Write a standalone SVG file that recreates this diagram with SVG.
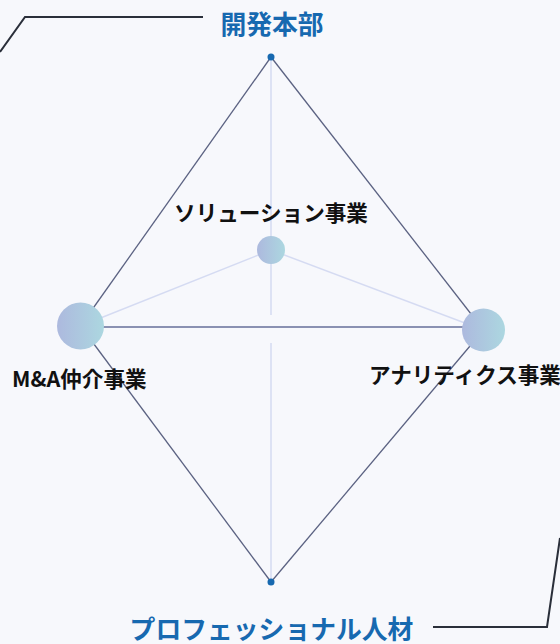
<svg xmlns="http://www.w3.org/2000/svg" width="560" height="644" viewBox="0 0 560 644">
<defs>
<linearGradient id="g" x1="0" y1="0" x2="1" y2="0">
<stop offset="0" stop-color="#adb9de"/>
<stop offset="1" stop-color="#acd7e0"/>
</linearGradient>
<style>
.t{font-family:"Noto Sans CJK JP","Noto Sans",sans-serif;font-weight:700}
.blue{fill:#1769b0;font-size:25.8px}
.blk{fill:#111;font-size:21.6px}
.edge{stroke:#5b6282;stroke-width:1.3;fill:none}
.light{stroke:#d5dbf2;stroke-width:1.5;fill:none}
.mid{stroke:#8a91b2;stroke-width:2;fill:none}
.call{stroke:#2a2f3a;stroke-width:2;fill:none}
</style>
</defs>
<rect width="560" height="644" fill="#f7f8fc"/>
<g id="connectors">
<line class="light" x1="271" y1="57" x2="271" y2="315"/>
<line class="light" x1="271" y1="343" x2="271" y2="582"/>
<line class="light" x1="271" y1="250" x2="80.5" y2="326"/>
<line class="light" x1="271" y1="250" x2="483.5" y2="330"/>
<line class="mid" x1="80.5" y1="327" x2="483.5" y2="327"/>
<line class="edge" x1="271" y1="57" x2="80.5" y2="326"/>
<line class="edge" x1="271" y1="57" x2="483.5" y2="330"/>
<line class="edge" x1="80.5" y1="326" x2="271" y2="582"/>
<line class="edge" x1="483.5" y1="330" x2="271" y2="582"/>
<polyline class="call" points="0,52 25,17 203,17"/>
<polyline class="call" points="433,627 547,627 560,538"/>
</g>
<g id="top">
<circle cx="271" cy="57" r="3.5" fill="#1769b0"/>
<text class="t blue" x="272" y="34" text-anchor="middle">開発本部</text>
</g>
<g id="bottom">
<circle cx="271" cy="582" r="3.5" fill="#1769b0"/>
<text class="t blue" x="271.5" y="639" text-anchor="middle">プロフェッショナル人材</text>
</g>
<g id="solution">
<circle cx="271" cy="250" r="14" fill="url(#g)"/>
<text class="t blk" x="271" y="221" text-anchor="middle">ソリューション事業</text>
</g>
<g id="ma">
<circle cx="80.5" cy="326" r="23.5" fill="url(#g)"/>
<text class="t blk" x="12" y="387">M&amp;A仲介事業</text>
</g>
<g id="analytics">
<circle cx="483.5" cy="330" r="21.5" fill="url(#g)"/>
<text class="t blk" x="369" y="383">アナリティクス事業</text>
</g>
</svg>
